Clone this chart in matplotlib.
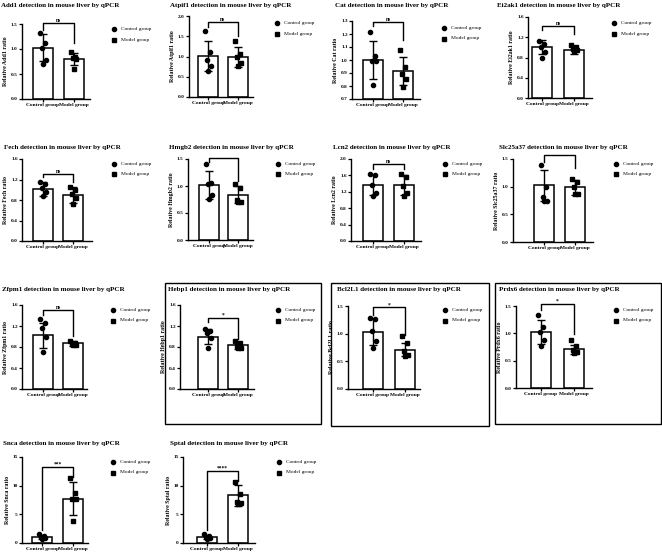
import matplotlib
matplotlib.use('Agg')
import matplotlib.pyplot as plt
from matplotlib.lines import Line2D
from matplotlib.patches import Rectangle

plt.rcParams['font.family'] = ['Liberation Serif', 'DejaVu Serif']

W, H = 662, 556

genes = ['Add1', 'Atpif1', 'Cat', 'Ei2ak1', 'Fech', 'Hmgb2', 'Lcn2', 'Slc25a37',
         'Zfpm1', 'Hebp1', 'Bcl2L1', 'Prdx6', 'Snca', 'Sptal']
groups = ['Control group', 'Model group']

# y axis ranges (min, max, step)
y_min = [0, 0, 0.7, 0, 0, 0, 0, 0, 0, 0, 0, 0, 0, 0]
y_max = [1.5, 2.0, 1.3, 1.6, 1.6, 1.5, 2.0, 1.5, 1.6, 1.6, 1.5, 1.5, 15, 15]
y_step = [0.5, 0.5, 0.1, 0.4, 0.4, 0.5, 0.4, 0.5, 0.4, 0.4, 0.5, 0.5, 5, 5]

# bar heights and SD
ctrl_mean = [1.03, 1.02, 1.00, 1.00, 1.01, 1.02, 1.37, 1.03, 1.02, 1.00, 1.03, 1.02, 1.05, 1.05]
ctrl_sd = [0.27, 0.37, 0.145, 0.14, 0.135, 0.26, 0.25, 0.28, 0.24, 0.135, 0.24, 0.22, 0.3, 0.3]
model_mean = [0.80, 0.99, 0.915, 0.957, 0.90, 0.836, 1.37, 0.99, 0.867, 0.83, 0.71, 0.71, 7.7, 8.3]
model_sd = [0.12, 0.25, 0.11, 0.08, 0.16, 0.16, 0.25, 0.135, 0.045, 0.065, 0.12, 0.085, 2.9, 1.9]

# individual animals
ctrl_pts = [
    [1.33, 1.11, 1.02, 0.78, 0.70],
    [1.64, 1.10, 0.91, 0.77, 0.64],
    [1.215, 1.03, 0.99, 0.99, 0.81],
    [1.13, 1.07, 1.00, 0.91, 0.80],
    [1.16, 1.12, 1.03, 0.95, 0.87],
    [1.41, 1.05, 1.03, 0.84, 0.76],
    [1.63, 1.60, 1.37, 1.16, 1.10],
    [1.39, 0.99, 0.82, 0.74, 0.74],
    [1.33, 1.26, 1.17, 1.00, 0.71],
    [1.14, 1.10, 1.06, 0.98, 0.79],
    [1.29, 1.26, 1.04, 0.86, 0.74],
    [1.33, 1.12, 1.02, 0.88, 0.77],
    [1.5, 1.2, 1.0, 0.9, 0.7],
    [1.5, 1.2, 1.0, 0.8, 0.7],
]
model_pts = [
    [0.95, 0.85, 0.83, 0.80, 0.60],
    [1.38, 1.05, 0.99, 0.85, 0.77],
    [1.08, 0.95, 0.89, 0.855, 0.795],
    [1.05, 1.00, 0.96, 0.94, 0.925],
    [1.05, 0.99, 0.91, 0.83, 0.73],
    [1.03, 0.97, 0.74, 0.71, 0.71],
    [1.63, 1.57, 1.34, 1.18, 1.10],
    [1.14, 1.08, 1.00, 0.875, 0.86],
    [0.92, 0.87, 0.855, 0.84, 0.835],
    [0.92, 0.885, 0.81, 0.79, 0.78],
    [0.95, 0.83, 0.68, 0.62, 0.60],
    [0.88, 0.76, 0.70, 0.65, 0.635],
    [11.4, 8.7, 7.6, 7.6, 3.8],
    [10.7, 8.6, 7.1, 6.9, 6.8],
]

# significance brackets: top, left leg end, right leg end, label
sig_top = [1.53, 1.86, 1.29, 1.43, 1.31, 1.52, 1.87, 1.58, 1.50, 1.36, 1.48, 1.54, 13.3, 12.6]
sig_left = [1.38, 1.72, 1.26, 1.35, 1.24, 1.45, 1.75, 1.45, 1.41, 1.27, 1.33, 1.43, 2.2, 2.2]
sig_right = [1.13, 1.51, 1.156, 1.26, 1.15, 1.10, 1.75, 1.33, 1.01, 0.95, 0.98, 0.98, 11.5, 10.9]
sig_text = ['ns', 'ns', 'ns', 'ns', 'ns', '', 'ns', '', 'ns', '*', '*', '*', '***', '****']

# layout in pixels: axis left, axis right, top, bottom, control x, model x
axes_px = [
    (22, 90, 24, 99, 43, 73.5), (189, 253, 16, 97, 208, 238),
    (352, 420, 21, 99, 373, 403), (528, 592, 17, 98, 542, 574),
    (22, 92, 159, 241, 43, 73), (188, 253, 159, 240, 209, 238),
    (351, 421, 159, 241, 373, 404), (513, 593, 159, 242, 544, 575),
    (22, 87, 305, 389, 43, 73), (180, 254, 305, 389, 208, 238),
    (348, 420, 306, 389, 373, 405), (516, 592, 306, 388, 541, 574),
    (22, 88, 457, 543, 42, 73), (183, 255, 457, 543, 207, 238),
]
title_px = [(1, 6), (170, 5), (335, 5), (497, 5),
            (4, 147), (169, 148), (333, 147), (499, 147),
            (2, 289), (168, 289), (337, 289), (499, 289),
            (3, 444), (170, 444)]
legend_px = [(114, 29), (277, 23), (444, 28), (614, 23),
             (114, 164), (278, 164), (445, 164), (616, 164),
             (113, 310), (278, 310), (445, 310), (616, 310),
             (113, 462), (279, 462)]
jitter = [-0.09, 0.06, -0.03, 0.09, 0.0]

fig = plt.figure(figsize=(W / 100, H / 100), dpi=100)

for i, g in enumerate(genes):
    l, r, t, b, cx, mx = axes_px[i]
    ax = fig.add_axes([l / W, 1 - b / H, (r - l) / W, (b - t) / H])
    unit = mx - cx
    ax.set_xlim((l - cx) / unit, (r - cx) / unit)
    ax.set_ylim(y_min[i], y_max[i])
    bw = 20 / unit
    means = [ctrl_mean[i], model_mean[i]]
    sds = [ctrl_sd[i], model_sd[i]]
    ax.bar([0, 1], [m - y_min[i] for m in means], bottom=y_min[i], width=bw,
           color='white', edgecolor='black', linewidth=1.1, zorder=1)
    for k, pts in enumerate([ctrl_pts[i], model_pts[i]]):
        ax.plot([k + j for j in jitter], pts, ls='none',
                marker='o' if k == 0 else 's', ms=3.0, color='black', zorder=3,
                clip_on=False)
    ax.errorbar([0, 1], means, yerr=sds, fmt='none', ecolor='black',
                elinewidth=1.0, capsize=3.2, capthick=1.0, zorder=4)
    # significance bracket
    ax.plot([0, 0, 1, 1], [sig_left[i], sig_top[i], sig_top[i], sig_right[i]],
            color='black', lw=1.0, clip_on=False)
    if sig_text[i]:
        ax.text(0.5, sig_top[i], sig_text[i], ha='center', va='bottom',
                fontsize=4, fontweight='bold')
    ticks = []
    v = y_min[i]
    while v <= y_max[i] + 1e-9:
        ticks.append(round(v, 2))
        v += y_step[i]
    ax.set_yticks(ticks)
    ax.set_yticklabels(['%g' % tk if y_step[i] >= 5 else '%.1f' % tk for tk in ticks])
    ax.set_xticks([0, 1])
    ax.set_xticklabels(groups, fontsize=3.9, fontweight='bold')
    ax.tick_params(axis='y', labelsize=3.8, length=2, width=0.9, pad=1)
    ax.tick_params(axis='x', length=2, width=0.9, pad=1)
    for lab in ax.get_yticklabels():
        lab.set_fontweight('bold')
    ax.spines['top'].set_visible(False)
    ax.spines['right'].set_visible(False)
    ax.spines['left'].set_linewidth(1.0)
    ax.spines['bottom'].set_linewidth(1.0)
    ax.set_ylabel('Relative %s ratio' % g, fontsize=4.2, fontweight='bold', labelpad=2)

    tx, ty = title_px[i]
    fig.text(tx / W, 1 - ty / H, '%s detection in mouse liver by qPCR' % g,
             ha='left', va='center', fontsize=5, fontweight='bold')
    lx, ly = legend_px[i]
    for k, mk in enumerate(['o', 's']):
        yy = ly + 10.5 * k
        fig.add_artist(Line2D([lx / W], [1 - yy / H], marker=mk, ms=3.0,
                              color='black', ls='none', transform=fig.transFigure))
        fig.text((lx + 7) / W, 1 - yy / H, groups[k], ha='left', va='center',
                 fontsize=3.9)

# boxes around the three panels of the third row
for x0, x1, y0, y1 in [(165, 321, 283, 424), (331, 489, 283, 426), (495, 661, 283, 424)]:
    fig.add_artist(Rectangle((x0 / W, 1 - y1 / H), (x1 - x0) / W, (y1 - y0) / H,
                             fill=False, edgecolor='black', linewidth=1.0,
                             transform=fig.transFigure))

fig.savefig('out.png', dpi=100)
